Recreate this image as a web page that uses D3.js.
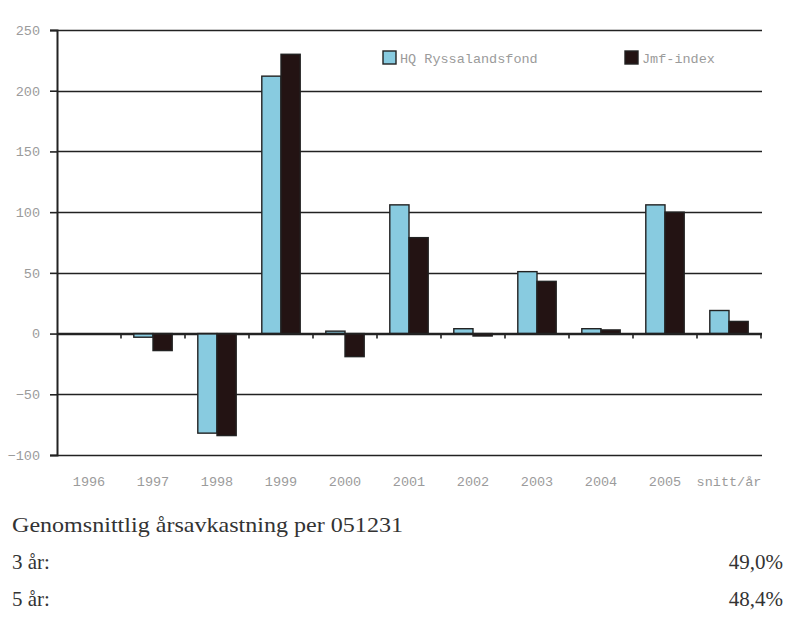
<!DOCTYPE html>
<html>
<head>
<meta charset="utf-8">
<script src="https://cdn.jsdelivr.net/npm/d3@7"></script>
<style>
  html, body { margin: 0; padding: 0; background: #fff; }
  svg { display: block; }
</style>
</head>
<body>
<svg id="chart" width="794" height="619"></svg>
<script>
const categories = ["1996","1997","1998","1999","2000","2001","2002","2003","2004","2005","snitt/år"];
const seriesNames = ["HQ Ryssalandsfond","Jmf-index"];
const fondValues  = [null, -3, -82, 212, 2, 106, 4, 51, 4, 106, 19];
const indexValues = [null, -14, -84, 230, -19, 79, -2, 43, 3, 100, 10];
const yTicks = [-100, -50, 0, 50, 100, 150, 200, 250];
const colors = ["#88cbe0", "#231313"];
const summaryTitle = "Genomsnittlig årsavkastning per 051231";
const summaryLabels = ["3 år:", "5 år:"];
const summaryValues = ["49,0%", "48,4%"];

(function () {
const svg = d3.select("#chart");
const pLeft = 57, pRight = 761, pTop = 30, pBottom = 455;

const x = d3.scaleBand().domain(categories).range([pLeft, pRight]).padding(0);
const xs = d3.scaleBand().domain(seriesNames).range([0, x.bandwidth()]).paddingInner(0).paddingOuter(0.667);
const y = d3.scaleLinear().domain([-100, 250]).range([pBottom, pTop]);

const monoFont = "'Liberation Mono', 'DejaVu Sans Mono', monospace";
const gray = "#9b9b9b";
const lineColor = "#222";

// gridlines
svg.append("g").selectAll("line").data(yTicks).join("line")
  .attr("x1", pLeft).attr("x2", pRight + 1)
  .attr("y1", d => Math.round(y(d)) + 0.5).attr("y2", d => Math.round(y(d)) + 0.5)
  .attr("stroke", lineColor).attr("stroke-width", 1.6);

// y axis
const yAxis = d3.axisLeft(y).tickValues(yTicks).tickSize(7).tickPadding(10).tickFormat(d3.format("d"));
const yg = svg.append("g").attr("transform", `translate(${pLeft},0)`).call(yAxis);
yg.select(".domain").attr("stroke", lineColor).attr("stroke-width", 2);
yg.selectAll(".tick line").attr("stroke", lineColor).attr("stroke-width", 1.6);
yg.selectAll(".tick text").attr("fill", gray).attr("font-family", monoFont).attr("font-size", 13.5);

// bars
const data = categories.map((c, i) => ({cat: c, vals: [fondValues[i], indexValues[i]]}));
const groups = svg.append("g").selectAll("g").data(data).join("g")
  .attr("transform", d => `translate(${x(d.cat)},0)`);
groups.selectAll("rect")
  .data(d => d.vals.map((v, j) => ({v, s: seriesNames[j], j})).filter(e => e.v !== null))
  .join("rect")
  .attr("x", e => xs(e.s))
  .attr("width", xs.bandwidth())
  .attr("y", e => Math.min(y(e.v), y(0)))
  .attr("height", e => Math.abs(y(e.v) - y(0)))
  .attr("fill", e => colors[e.j])
  .attr("stroke", lineColor).attr("stroke-width", 1.4);

// zero axis with category ticks
const xAxis = d3.axisBottom(x).tickSize(0).tickFormat(d => d);
const xg = svg.append("g").attr("transform", `translate(0,${y(0)})`);
xg.append("line").attr("x1", pLeft).attr("x2", pRight + 1)
  .attr("y1", 0).attr("y2", 0).attr("stroke", lineColor).attr("stroke-width", 1.8);
xg.selectAll(".cattick").data(categories).join("line").attr("class", "cattick")
  .attr("x1", d => x(d) + x.bandwidth()).attr("x2", d => x(d) + x.bandwidth())
  .attr("y1", 0).attr("y2", 5).attr("stroke", lineColor).attr("stroke-width", 1.6);

// category labels below plot
const lg = svg.append("g").attr("transform", `translate(0,${pBottom})`).call(xAxis);
lg.select(".domain").remove();
lg.selectAll(".tick text").attr("dy", null).attr("y", 31)
  .attr("fill", gray).attr("font-family", monoFont).attr("font-size", 13.5);

// legend
const legendX = [383, 625];
const legend = svg.append("g").selectAll("g").data(seriesNames).join("g")
  .attr("transform", (d, i) => `translate(${legendX[i]},51)`);
legend.append("rect").attr("width", 13).attr("height", 13)
  .attr("fill", (d, i) => colors[i]).attr("stroke", lineColor).attr("stroke-width", 1.4);
legend.append("text").attr("x", 17).attr("y", 11.5).text(d => d)
  .attr("fill", gray).attr("font-family", monoFont).attr("font-size", 13.5);

// summary text
const serif = "'Liberation Serif', 'DejaVu Serif', serif";
const textColor = "#333";
svg.append("text").attr("x", 12).attr("y", 532).text(summaryTitle)
  .attr("font-family", serif).attr("font-size", 21).attr("fill", textColor)
  .attr("textLength", 391).attr("lengthAdjust", "spacingAndGlyphs");
const rowY = [569, 606];
svg.append("g").selectAll("text").data(summaryLabels).join("text")
  .attr("x", 12).attr("y", (d, i) => rowY[i]).text(d => d)
  .attr("font-family", serif).attr("font-size", 21).attr("fill", textColor);
svg.append("g").selectAll("text").data(summaryValues).join("text")
  .attr("x", 783).attr("y", (d, i) => rowY[i]).attr("text-anchor", "end").text(d => d)
  .attr("font-family", serif).attr("font-size", 21).attr("fill", textColor);
})();
</script>
</body>
</html>
